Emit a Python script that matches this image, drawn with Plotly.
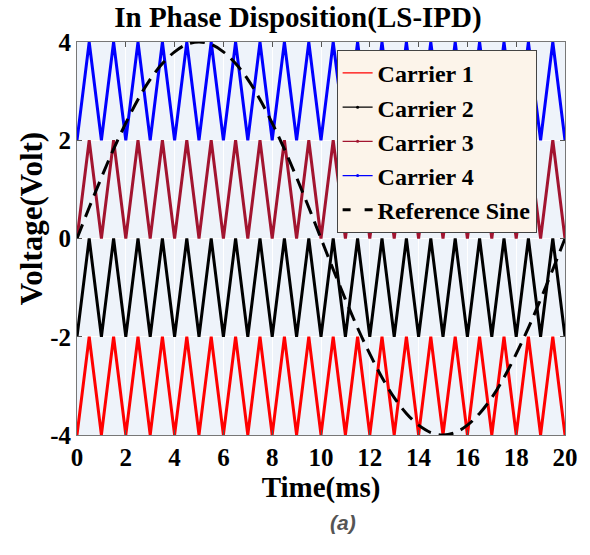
import plotly.graph_objects as go

# Vertex times of the triangular carriers (ms)
carrier_time = [0, 0.5, 1, 1.5, 2, 2.5, 3, 3.5, 4, 4.5, 5, 5.5, 6, 6.5, 7, 7.5, 8, 8.5, 9, 9.5,
                10, 10.5, 11, 11.5, 12, 12.5, 13, 13.5, 14, 14.5, 15, 15.5, 16, 16.5, 17, 17.5,
                18, 18.5, 19, 19.5, 20]
carrier1 = [-4, -2] * 20 + [-4]
carrier2 = [-2, 0] * 20 + [-2]
carrier3 = [0, 2] * 20 + [0]
carrier4 = [2, 4] * 20 + [2]

# Reference sine samples (ms, volt)
sine_time = carrier_time
sine_vals = [0.00, 0.63, 1.24, 1.82, 2.35, 2.83, 3.24, 3.56, 3.80, 3.95,
             4.00, 3.95, 3.80, 3.56, 3.24, 2.83, 2.35, 1.82, 1.24, 0.63,
             0.00, -0.63, -1.24, -1.82, -2.35, -2.83, -3.24, -3.56, -3.80, -3.95,
             -4.00, -3.95, -3.80, -3.56, -3.24, -2.83, -2.35, -1.82, -1.24, -0.63, 0.00]

x_ticks = [0, 2, 4, 6, 8, 10, 12, 14, 16, 18, 20]
y_ticks = [-4, -2, 0, 2, 4]

names = ["Carrier 1", "Carrier 2", "Carrier 3", "Carrier 4"]
colors = ["#ff0000", "#000000", "#a2142f", "#0000ff"]
series = [carrier1, carrier2, carrier3, carrier4]

FONT = "Liberation Serif"
fig = go.Figure()

for n, c, s in zip(names, colors, series):
    fig.add_trace(go.Scatter(x=carrier_time, y=s, mode="lines", name=n,
                             line=dict(color=c, width=3), showlegend=False))

fig.add_trace(go.Scatter(x=sine_time, y=sine_vals, mode="lines", name="Reference Sine",
                         line=dict(color="black", width=3, dash="15px,8px", shape="spline"),
                         showlegend=False))

# legend-only entries (thin lines like the reference legend)
for i, (n, c) in enumerate(zip(names, colors)):
    fig.add_trace(go.Scatter(x=[None], y=[None], mode="lines+markers" if i > 0 else "lines",
                             name=n, line=dict(color=c, width=1.2),
                             marker=dict(size=3, color=c)))
fig.add_trace(go.Scatter(x=[None], y=[None], mode="lines", name="Reference Sine",
                         line=dict(color="black", width=3, dash="8px,14px")))

fig.update_layout(
    width=590, height=555,
    margin=dict(l=77, r=23, t=42, b=120),
    paper_bgcolor="white",
    plot_bgcolor="#eef3fa",
    title=dict(text="<b>In Phase Disposition(LS-IPD)</b>", x=0.505, xanchor="center",
               y=0.97, yanchor="middle",
               font=dict(family=FONT, size=29, color="black")),
    font=dict(family=FONT, size=25, color="black"),
    showlegend=True,
    legend=dict(x=0.532, y=0.98, xanchor="left", yanchor="top",
                bgcolor="#fcf4ea", bordercolor="#444444", borderwidth=1,
                font=dict(family=FONT, size=24, color="black", weight="bold"),
                tracegroupgap=0, itemwidth=30),
)

fig.update_xaxes(range=[0, 20], tickvals=x_ticks, ticktext=[f"<b>{t}</b>" for t in x_ticks],
                 showgrid=True, gridcolor="#ffffff", gridwidth=1,
                 showline=True, linecolor="#777777", linewidth=1, mirror="ticks",
                 ticks="inside", ticklen=5, tickcolor="#555555",
                 zeroline=False,
                 title=dict(text="<b>Time(ms)</b>", font=dict(family=FONT, size=29), standoff=6))
fig.update_yaxes(range=[-4, 4], tickvals=y_ticks, ticktext=[f"<b>{t}</b>" for t in y_ticks],
                 showgrid=True, gridcolor="#ffffff", gridwidth=1,
                 showline=True, linecolor="#777777", linewidth=1, mirror="ticks",
                 ticks="inside", ticklen=5, tickcolor="#555555",
                 zeroline=False)

# y-axis title placed as annotation to match reference position
fig.add_annotation(text="<b>Voltage(Volt)</b>", xref="paper", yref="paper",
                   x=(31 - 77) / 490, y=(435 - 219) / 393, textangle=-90,
                   xanchor="center", yanchor="middle", showarrow=False,
                   font=dict(family=FONT, size=31, color="black"))

fig.add_annotation(text="<b><i>(a)</i></b>", xref="paper", yref="paper", x=0.545, y=-0.222,
                   xanchor="center", yanchor="middle", showarrow=False,
                   font=dict(family="Liberation Sans", size=21, color="#555555"))

fig.write_html("out.html")
